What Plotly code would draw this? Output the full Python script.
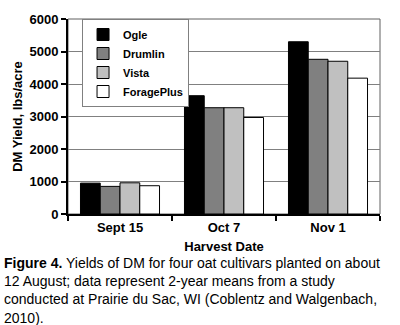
import plotly.graph_objects as go

dates = ["Sept 15", "Oct 7", "Nov 1"]
cultivars = ["Ogle", "Drumlin", "Vista", "ForagePlus"]
ogle = [950, 3640, 5300]
drumlin = [850, 3270, 4760]
vista = [960, 3270, 4700]
forageplus = [870, 2970, 4180]
colors = ["#000000", "#808080", "#c0c0c0", "#ffffff"]
y_ticks = [0, 1000, 2000, 3000, 4000, 5000, 6000]

fig = go.Figure()
for name, vals, c in zip(cultivars, [ogle, drumlin, vista, forageplus], colors):
    fig.add_trace(go.Bar(x=dates, y=vals, name="<b>%s</b>" % name,
                         marker=dict(color=c, line=dict(color="#000000", width=1))))

fig.update_layout(
    width=400, height=325,
    margin=dict(l=68, r=20, t=16, b=111),
    paper_bgcolor="white", plot_bgcolor="white",
    barmode="group", bargap=0.24, bargroupgap=0,
    font=dict(family="Liberation Sans, Arial", color="black"),
    showlegend=True,
    legend=dict(x=0.045, y=1.0, xanchor="left", yanchor="top",
                bgcolor="white", bordercolor="#808080", borderwidth=1,
                font=dict(size=11, family="Liberation Sans, Arial"),
                itemwidth=30, tracegroupgap=0),
    xaxis=dict(showline=True, linecolor="black", linewidth=2, ticks="outside",
               tickson="boundaries", ticklen=5, tickwidth=1.5, tickcolor="black",
               tickfont=dict(size=13, weight="bold"),
               title=dict(text="<b>Harvest Date</b>", font=dict(size=13), standoff=8)),
    yaxis=dict(range=[0, 6000], tickvals=y_ticks, showline=True, linecolor="black", linewidth=2,
               ticks="outside", ticklen=5, tickwidth=1.5, tickcolor="black",
               showgrid=True, gridcolor="#808080", gridwidth=1, zeroline=False,
               tickfont=dict(size=13, weight="bold"),
               title=dict(text="<b>DM Yield, lbs/acre</b>", font=dict(size=13), standoff=4)),
)

fig.add_shape(type="rect", xref="paper", yref="paper", x0=0, x1=1, y0=0, y1=1,
              line=dict(color="#606060", width=1), layer="below")

fig.add_annotation(
    xref="paper", yref="paper", x=-66/312, y=-40/198, xanchor="left", yanchor="top",
    align="left", showarrow=False,
    text=("<b>Figure 4.</b> Yields of DM for four oat cultivars planted on about<br>"
          "12 August; data represent 2-year means from a study<br>"
          "conducted at Prairie du Sac, WI (Coblentz and Walgenbach,<br>"
          "2010)."),
    font=dict(size=14, family="Liberation Sans, Arial", color="black"),
)

fig.write_html("out.html")
